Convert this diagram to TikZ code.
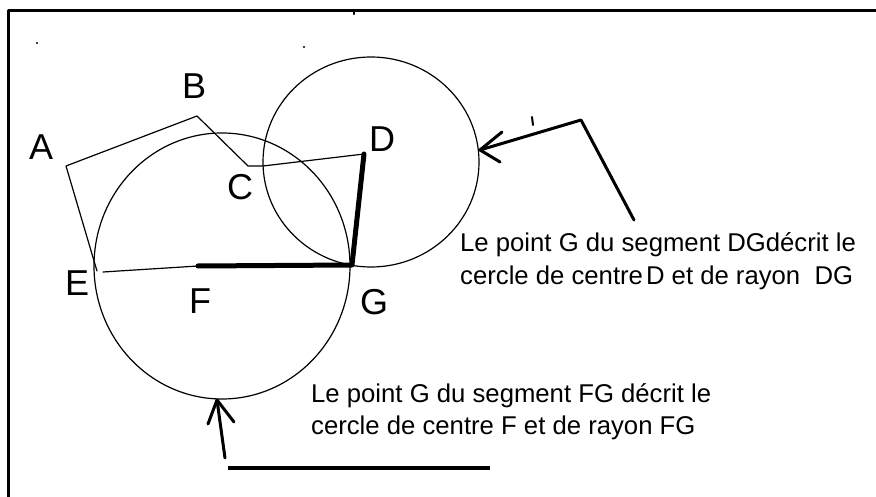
\documentclass[tikz,border=0pt]{standalone}
\usepackage{fontspec}
\setmainfont{Liberation Sans}
\begin{document}
\begin{tikzpicture}[x=1pt,y=-1pt,line join=round,line cap=round,
  thinline/.style={line width=1.2pt},
  thickseg/.style={line width=5pt},
  arrowline/.style={line width=3pt},
  frameline/.style={line width=3pt,line cap=butt},
  dotmark/.style={fill=black,inner sep=0pt,minimum size=2.2pt,circle},
  lbl/.style={inner sep=0pt,anchor=base west,font=\fontsize{36}{36}\selectfont},
  note/.style={inner sep=0pt,anchor=base west,font=\fontsize{25.7}{30}\selectfont}]
\useasboundingbox (0,0) rectangle (876,497);
% frame (top and left only)
\coordinate (fb) at (8,497);
\coordinate (fc) at (8,10.5);
\coordinate (fr) at (876,10.5);
\draw[frameline] (fb) -- (fc) -- (fr);
\coordinate (tk1) at (354,10);
\coordinate (tk2) at (354,14);
\draw[line width=2.5pt] (tk1) -- (tk2);
% stray dots
\node[dotmark] (dot1) at (37,43) {};
\node[dotmark] (dot2) at (304,47) {};
% key points
\coordinate (pA) at (66,166);
\coordinate (pB) at (197,116);
\coordinate (pC) at (248,166);
\coordinate (pC2) at (263,166);
\coordinate (pD) at (364,154);
\coordinate (pE) at (103,272);
\coordinate (pEa) at (97,271);
\coordinate (pF) at (198,266);
\coordinate (pG) at (352,265);
\coordinate (cF) at (222,266);
\coordinate (cD) at (371,162);
% circles
\draw[thinline] (cF) ellipse [x radius=128pt,y radius=133pt];
\draw[thinline] (cD) ellipse [x radius=108pt,y radius=105pt];
% polygon
\draw[thinline] (pEa) -- (pA) -- (pB) -- (pC) -- (pC2) -- (pD);
\draw[thinline] (pE) -- (pF);
% thick segments
\draw[thickseg] (pF) -- (pG) -- (pD);
% labels
\node[lbl] (lA) at (29,160) {A};
\node[lbl] (lB) at (182,99) {B};
\node[lbl] (lC) at (227,200) {C};
\node[lbl] (lD) at (369,152) {D};
\node[lbl] (lE) at (65,295) {E};
\node[lbl] (lF) at (189,313) {F};
\node[lbl] (lG) at (360,314) {G};
% right arrow
\coordinate (ra1) at (634,220);
\coordinate (ra2) at (581,120);
\coordinate (ra3) at (480,150);
\coordinate (rb1) at (502,132);
\coordinate (rb2) at (500,162);
\draw[arrowline] (ra1) -- (ra2) -- (ra3);
\draw[arrowline] (rb1) -- (ra3) -- (rb2);
\coordinate (rt1) at (532,117);
\coordinate (rt2) at (533,125);
\draw[line width=2pt] (rt1) -- (rt2);
% bottom arrow
\coordinate (ba1) at (225,458);
\coordinate (ba2) at (217,400);
\coordinate (bb1) at (208,424);
\coordinate (bb2) at (234,422);
\draw[arrowline] (ba1) -- (ba2);
\draw[arrowline] (bb1) -- (ba2) -- (bb2);
\coordinate (bl1) at (228,468);
\coordinate (bl2) at (490,468);
\draw[line width=4pt,line cap=butt] (bl1) -- (bl2);
% notes
\node[note] (n1) at (460,252) {Le point G du segment DGdécrit le};
\node[note] (n2) at (460,285) {cercle de centre\kern3pt D et de rayon\ \ DG};
\node[note] (n3) at (311,402) {Le point G du segment FG décrit le};
\node[note] (n4) at (311,434) {cercle de centre F et de rayon FG};
\end{tikzpicture}
\end{document}
